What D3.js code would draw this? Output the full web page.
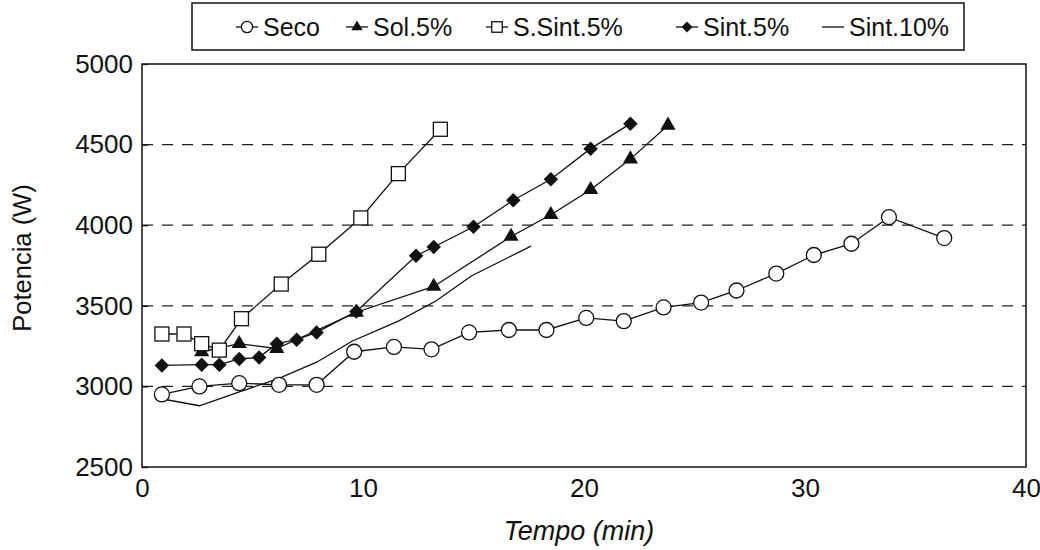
<!DOCTYPE html>
<html>
<head>
<meta charset="utf-8">
<script src="https://cdn.jsdelivr.net/npm/d3@7"></script>
<style>
  body { margin: 0; background: #fff; }
  text { font-family: "Liberation Sans", Arial, sans-serif; fill: #111; }
</style>
</head>
<body>
<div id="chart"></div>
<script>
// series: time (min) and power (W)
var secoX   = [0.9, 2.6, 4.4, 6.2, 7.9, 9.6, 11.4, 13.1, 14.8, 16.6, 18.3, 20.1, 21.8, 23.6, 25.3, 26.9, 28.7, 30.4, 32.1, 33.8, 36.3];
var secoY   = [2950, 3000, 3020, 3010, 3010, 3215, 3245, 3230, 3335, 3350, 3350, 3425, 3405, 3490, 3520, 3595, 3700, 3815, 3885, 4050, 3920];

var solX    = [2.7, 4.4, 6.1, 9.7, 13.2, 16.7, 18.5, 20.3, 22.1, 23.8];
var solY    = [3215, 3265, 3235, 3460, 3620, 3930, 4065, 4220, 4410, 4620];

var ssintX  = [0.9, 1.9, 2.7, 3.5, 4.5, 6.3, 8.0, 9.9, 11.6, 13.5];
var ssintY  = [3325, 3325, 3265, 3225, 3420, 3635, 3820, 4045, 4320, 4595];

var sint5X  = [0.9, 2.7, 3.5, 4.4, 5.3, 6.1, 7.0, 7.9, 9.7, 12.4, 13.2, 15.0, 16.8, 18.5, 20.3, 22.1];
var sint5Y  = [3130, 3135, 3135, 3170, 3180, 3265, 3290, 3335, 3465, 3810, 3865, 3990, 4155, 4285, 4475, 4630];

var sint10X = [0.8, 2.6, 4.5, 6.2, 7.9, 9.5, 11.6, 13.3, 14.9, 17.6];
var sint10Y = [2925, 2880, 2970, 3050, 3150, 3280, 3405, 3530, 3685, 3870];

var xTicks = [0, 10, 20, 30, 40];
var yTicks = [2500, 3000, 3500, 4000, 4500, 5000];
var gridValues = [3000, 3500, 4000, 4500];

var legendNames = ["Seco", "Sol.5%", "S.Sint.5%", "Sint.5%", "Sint.10%"];

function zip(xs, ys) { return xs.map(function(x, i) { return {x: x, y: ys[i]}; }); }

var series = [
  {name: "Seco",      data: zip(secoX, secoY),     marker: "circle"},
  {name: "Sol.5%",    data: zip(solX, solY),       marker: "triangle"},
  {name: "S.Sint.5%", data: zip(ssintX, ssintY),   marker: "square"},
  {name: "Sint.5%",   data: zip(sint5X, sint5Y),   marker: "diamond"},
  {name: "Sint.10%",  data: zip(sint10X, sint10Y), marker: "none"}
];

var W = 1040, H = 550;
var margin = {top: 64, right: 14, bottom: 83, left: 142};
var width = W - margin.left - margin.right;
var height = H - margin.top - margin.bottom;

var svg = d3.select("#chart").append("svg")
    .attr("width", W)
    .attr("height", H);

var g = svg.append("g")
    .attr("transform", "translate(" + margin.left + "," + margin.top + ")");

var x = d3.scaleLinear().domain([0, 40]).range([0, width]);
var y = d3.scaleLinear().domain([2500, 5000]).range([height, 0]);

// dashed gridlines
g.selectAll(".grid")
  .data(gridValues)
  .enter().append("line")
    .attr("x1", 0).attr("x2", width)
    .attr("y1", function(d) { return y(d); })
    .attr("y2", function(d) { return y(d); })
    .attr("stroke", "#222")
    .attr("stroke-width", 1.3)
    .attr("stroke-dasharray", "11,9");

// plot frame
g.append("rect")
    .attr("width", width).attr("height", height)
    .attr("fill", "none").attr("stroke", "#111").attr("stroke-width", 1.5);

// axes
var yAxis = g.append("g")
    .call(d3.axisLeft(y).tickValues(yTicks).tickFormat(d3.format("d"))
      .tickSizeInner(-6).tickSizeOuter(0).tickPadding(9));
yAxis.select(".domain").remove();
yAxis.selectAll("line").attr("stroke", "#111").attr("stroke-width", 1.3);
yAxis.selectAll("text").style("font-size", "26px").style("font-family", "Liberation Sans, Arial, sans-serif");

var xAxis = g.append("g")
    .attr("transform", "translate(0," + height + ")")
    .call(d3.axisBottom(x).tickValues(xTicks).tickFormat(d3.format("d")).tickSize(0).tickPadding(12));
xAxis.select(".domain").remove();
xAxis.selectAll("text").style("font-size", "26px").style("font-family", "Liberation Sans, Arial, sans-serif");

// axis titles
svg.append("text")
    .attr("transform", "translate(31,258)rotate(-90)")
    .attr("text-anchor", "middle")
    .style("font-size", "25.5px")
    .text("Potencia (W)");

svg.append("text")
    .attr("x", 579).attr("y", 540)
    .attr("text-anchor", "middle")
    .style("font-size", "27px")
    .style("font-style", "italic")
    .text("Tempo (min)");

// lines
var line = d3.line()
    .x(function(d) { return x(d.x); })
    .y(function(d) { return y(d.y); });

g.selectAll(".series")
  .data(series)
  .enter().append("path")
    .attr("d", function(d) { return line(d.data); })
    .attr("fill", "none")
    .attr("stroke", "#111")
    .attr("stroke-width", 1.3);

// markers
function drawMarker(sel, type, scale) {
  scale = scale || 1;
  if (type === "circle") {
    sel.append("circle").attr("r", 7.5 * scale)
      .attr("fill", "#fff").attr("stroke", "#111").attr("stroke-width", 1.3);
  } else if (type === "triangle") {
    sel.append("path").attr("d", d3.symbol(d3.symbolTriangle, 100 * scale * scale)())
      .attr("fill", "#111");
  } else if (type === "square") {
    sel.append("rect")
      .attr("x", -7 * scale).attr("y", -7 * scale)
      .attr("width", 14 * scale).attr("height", 14 * scale)
      .attr("fill", "#fff").attr("stroke", "#111").attr("stroke-width", 1.3);
  } else if (type === "diamond") {
    sel.append("path").attr("d", d3.symbol(d3.symbolSquare, 105 * scale * scale)())
      .attr("transform", "rotate(45)")
      .attr("fill", "#111");
  }
}

series.forEach(function(s) {
  if (s.marker === "none") return;
  g.selectAll(null)
    .data(s.data)
    .enter().append("g")
      .attr("transform", function(d) { return "translate(" + x(d.x) + "," + y(d.y) + ")"; })
      .each(function() { drawMarker(d3.select(this), s.marker); });
});

// legend
var legend = svg.append("g");
legend.append("rect")
    .attr("x", 192).attr("y", 3)
    .attr("width", 772).attr("height", 47)
    .attr("fill", "#fff").attr("stroke", "#111").attr("stroke-width", 1.5);

var legendX = [236, 346, 486, 676, 822];
series.forEach(function(s, i) {
  var item = legend.append("g").attr("transform", "translate(" + legendX[i] + ",27)");
  item.append("line")
      .attr("x1", 0).attr("x2", 22)
      .attr("stroke", "#111").attr("stroke-width", 1.3);
  drawMarker(item.append("g").attr("transform", "translate(11,0)"), s.marker, 0.75);
  item.append("text")
      .attr("x", 27).attr("dy", "0.35em")
      .style("font-size", "25px")
      .text(legendNames[i]);
});
</script>
</body>
</html>
